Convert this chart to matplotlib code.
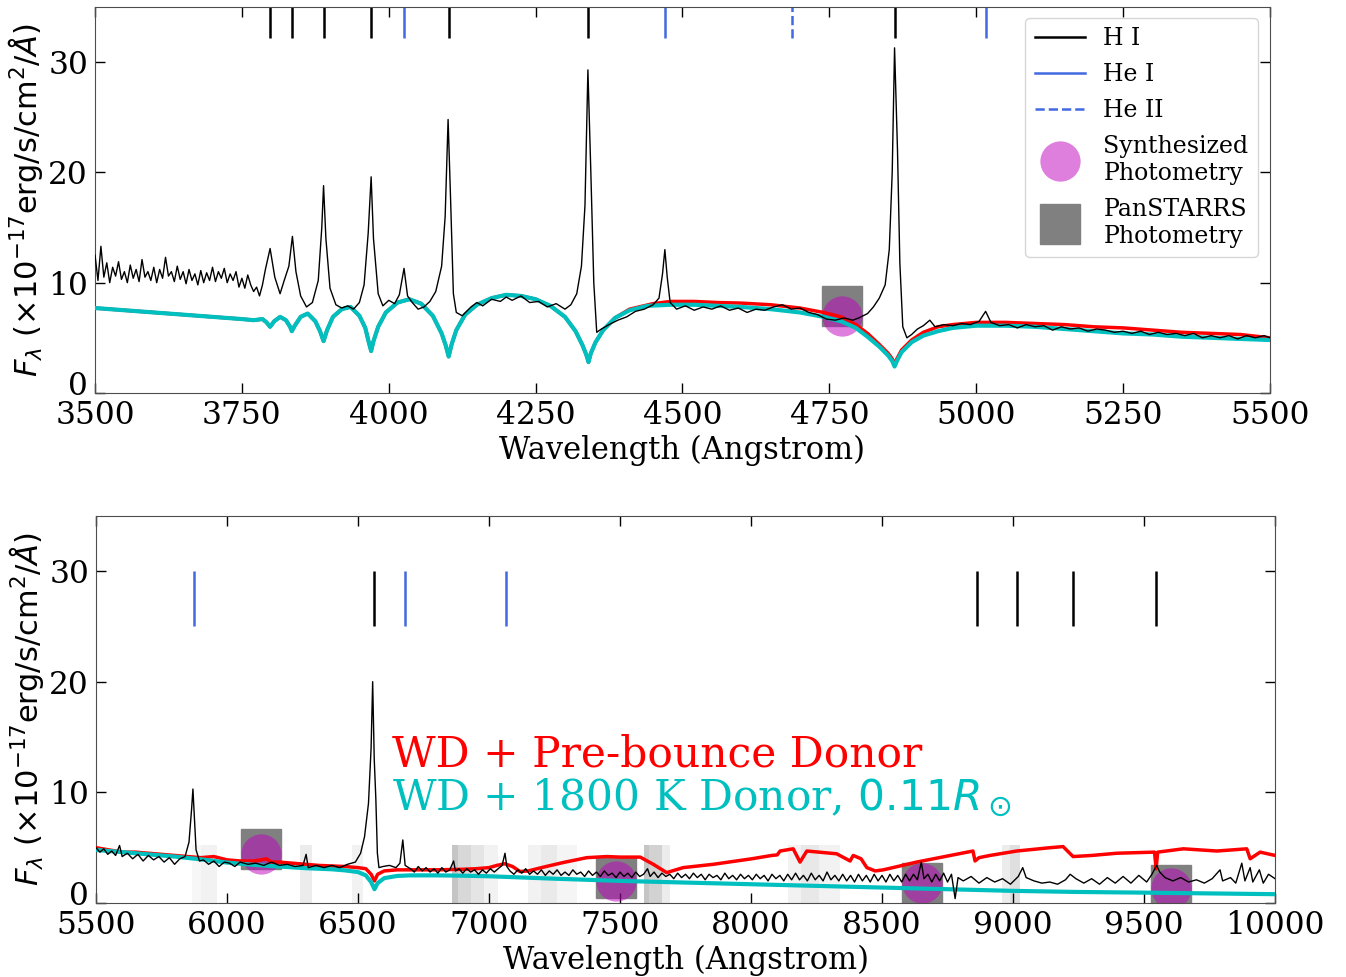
import matplotlib
matplotlib.use('Agg')
import matplotlib.pyplot as plt
import matplotlib.transforms as mtransforms
from matplotlib.lines import Line2D

# observed spectrum (Angstrom, 1e-17 erg/s/cm^2/A)
obs_wave = [3500, 3505, 3510, 3515, 3520, 3525, 3530, 3535, 3540, 3545, 3550, 3555, 3560, 3565, 3570, 3575,
            3580, 3585, 3590, 3595, 3600, 3605, 3610, 3615, 3620, 3625, 3630, 3635, 3640, 3645, 3650, 3655,
            3660, 3665, 3670, 3675, 3680, 3685, 3690, 3695, 3700, 3705, 3710, 3715, 3720, 3725, 3730, 3735,
            3740, 3745, 3750, 3755, 3760, 3765, 3770, 3775, 3780, 3785, 3790,
            3798, 3806, 3815, 3822, 3830, 3836, 3842, 3850, 3860, 3870, 3880, 3886, 3889, 3893, 3900, 3910,
            3920, 3930, 3940, 3950, 3958, 3965, 3970, 3974, 3982, 3990, 4000, 4010, 4018, 4026, 4032, 4040,
            4050, 4060, 4070, 4080, 4090, 4096, 4101, 4105, 4110, 4115, 4125, 4140, 4150, 4160, 4175, 4190,
            4200, 4210, 4225, 4240, 4255, 4270, 4285, 4300, 4310, 4320, 4328, 4334, 4339, 4344, 4349, 4354,
            4362, 4375, 4390, 4405, 4420, 4435, 4450, 4460, 4466, 4470, 4474, 4479, 4490, 4505, 4520, 4535,
            4550, 4565, 4580, 4595, 4610, 4625, 4640, 4655, 4670, 4685, 4700, 4715, 4730, 4745, 4760, 4775,
            4790, 4800, 4815, 4825, 4835, 4845, 4852, 4857, 4861, 4866, 4870, 4875, 4882, 4890, 4900, 4910,
            4921, 4930, 4945, 4960, 4975, 4990, 5005, 5016, 5025, 5040, 5055, 5070, 5085, 5100, 5115, 5130,
            5145, 5160, 5175, 5190, 5205, 5220, 5235, 5250, 5265, 5280, 5295, 5310, 5325, 5340, 5355, 5370,
            5385, 5400, 5415, 5430, 5445, 5460, 5475, 5490, 5500,
            5515, 5530, 5545, 5560, 5575, 5590, 5600, 5620, 5640, 5660, 5680, 5700, 5720, 5740, 5760, 5780,
            5800, 5820, 5840, 5855, 5865, 5870, 5876, 5882, 5895, 5910, 5930, 5950, 5970, 5990, 6010, 6030,
            6050, 6080, 6110, 6140, 6170, 6200, 6230, 6260, 6290, 6302, 6310, 6340, 6370, 6400, 6430, 6460,
            6490, 6510, 6525, 6540, 6550, 6556, 6562, 6568, 6574, 6580, 6595, 6620, 6645, 6660, 6671, 6680,
            6700, 6715, 6730, 6745, 6760, 6775, 6790, 6805, 6820, 6835, 6850, 6865, 6872, 6885, 6900, 6915,
            6930, 6945, 6960, 6975, 6990, 7005, 7020, 7035, 7050, 7061, 7068, 7080, 7095, 7110, 7125, 7140,
            7155, 7170, 7185, 7200, 7215, 7230, 7245, 7260, 7275, 7290, 7305, 7320, 7335, 7350, 7365, 7380,
            7395, 7410, 7425, 7440, 7455, 7470, 7485, 7500, 7515, 7530, 7545, 7560, 7575, 7590, 7605, 7615,
            7630, 7645, 7660, 7675, 7690, 7705, 7720, 7735, 7750, 7765, 7780, 7795, 7810, 7825, 7840, 7855,
            7870, 7885, 7900, 7915, 7930, 7945, 7960, 7975, 7990, 8005, 8020, 8035, 8050, 8065, 8080, 8095,
            8110, 8125, 8140, 8155, 8170, 8185, 8200, 8215, 8230, 8245, 8260, 8275, 8290, 8305, 8320, 8335,
            8350, 8365, 8380, 8395, 8410, 8425, 8440, 8455, 8470, 8485, 8500, 8515, 8530, 8545, 8560, 8575,
            8590, 8605, 8620, 8635, 8650, 8660, 8675, 8690, 8705, 8720, 8735, 8750, 8765, 8779, 8790,
            8810, 8840, 8870, 8900, 8930, 8960, 8990, 9020, 9037, 9050, 9080, 9110, 9140, 9170, 9200, 9218,
            9240, 9270, 9300, 9330, 9360, 9390, 9420, 9450, 9480, 9510, 9530, 9548, 9560, 9580, 9610, 9640,
            9670, 9700, 9730, 9760, 9790, 9800, 9830, 9850, 9873, 9885, 9905, 9915, 9940, 9955, 9975, 10000]
obs_flux = [12.5, 10.2, 13.3, 10.5, 11.8, 10.0, 11.4, 10.6, 11.9, 10.3, 11.0, 10.0, 11.6, 10.4, 11.2, 10.1,
            12.1, 10.5, 11.0, 10.2, 11.4, 10.0, 11.2, 10.4, 12.3, 10.6, 11.0, 10.1, 11.5, 10.3, 11.0, 9.9,
            11.2, 10.2, 10.8, 9.8, 11.1, 10.0, 10.9, 10.2, 11.4, 10.1, 11.0, 10.4, 11.3, 10.0, 10.8, 10.2,
            11.0, 9.6, 10.4, 9.5, 10.7, 9.8, 9.2, 9.6, 8.8, 9.8, 11.2,
            13.1, 10.5, 9.0, 10.2, 11.5, 14.2, 11.0, 8.8, 7.8, 8.2, 10.2, 15.0, 18.8, 14.0, 9.5, 8.0,
            7.7, 7.9, 7.6, 8.2, 9.8, 14.5, 19.6, 14.0, 9.0, 7.9, 8.4, 8.1, 8.9, 11.3, 8.8, 8.2,
            7.6, 7.8, 8.3, 9.2, 11.5, 16.0, 24.8, 18.0, 9.0, 7.3, 7.0, 7.8, 8.2, 7.9, 8.5, 8.3,
            8.7, 8.4, 8.8, 8.2, 8.3, 7.8, 8.1, 7.6, 8.0, 9.0, 11.5, 17.0, 29.3, 20.0, 10.0, 5.5,
            5.8, 6.2, 6.6, 6.9, 7.4, 7.6, 8.0, 8.6, 10.8, 13.0, 10.5, 8.2, 7.6, 7.9, 7.5, 7.8,
            7.6, 7.9, 7.5, 7.7, 7.3, 7.6, 7.5, 7.8, 8.0, 7.6, 7.7, 7.3, 7.1, 6.7, 6.6, 6.8,
            6.6, 6.8, 7.2, 7.8, 8.6, 9.8, 13.0, 20.0, 31.3, 22.0, 11.8, 6.0, 5.0, 5.3, 5.8, 6.1,
            6.6, 6.0, 6.2, 6.1, 6.3, 6.2, 6.5, 7.4, 6.4, 6.1, 6.2, 5.9, 6.2, 6.0, 6.1, 5.7,
            6.0, 5.8, 5.9, 5.6, 5.8, 5.7, 5.5, 5.6, 5.4, 5.6, 5.3, 5.5, 5.3, 5.4, 5.2, 5.4,
            5.0, 5.2, 5.0, 5.2, 4.9, 5.2, 5.0, 5.2, 5.0,
            4.6, 4.9, 4.4, 4.7, 4.3, 5.2, 4.2, 4.5, 4.0, 4.4, 3.8, 4.3, 3.9, 4.2, 3.7, 4.1,
            3.5, 4.0, 4.2, 5.5, 8.5, 10.3, 7.5, 4.8, 3.8, 3.9, 3.5, 3.8, 3.3, 3.7, 3.6, 3.3,
            3.7, 3.5, 3.6, 3.4, 3.7, 3.4, 3.5, 3.3, 3.4, 4.4, 3.2, 3.4, 3.2, 3.4, 3.2, 3.5,
            3.7, 4.5, 6.0, 9.0, 14.0, 20.0, 13.0, 9.5, 4.5, 3.2, 3.3, 3.4, 3.2, 3.6, 5.7, 3.4,
            3.1, 2.8, 3.3, 2.9, 3.2, 2.8, 3.1, 2.7, 3.2, 2.8, 3.0, 3.8, 2.9, 3.1, 2.7, 3.1,
            2.8, 3.0, 2.6, 3.0, 2.7, 3.1, 2.8, 3.1, 3.4, 4.5, 3.3, 2.9, 2.6, 3.0, 2.7, 3.1,
            2.6, 2.9, 2.6, 3.0, 2.5, 2.9, 2.6, 3.0, 2.5, 2.8, 2.5, 3.0, 2.6, 2.8, 2.4, 2.9,
            2.5, 2.8, 2.4, 2.9, 2.5, 2.7, 2.3, 2.8, 2.4, 2.7, 2.3, 2.8, 2.4, 2.6, 3.1, 2.4,
            2.8, 2.3, 2.7, 2.4, 2.6, 2.2, 2.7, 2.3, 2.6, 2.2, 2.7, 2.3, 2.6, 2.1, 2.6, 2.3,
            2.5, 2.1, 2.7, 2.2, 2.5, 2.1, 2.6, 2.2, 2.5, 2.1, 2.6, 2.2, 2.5, 2.0, 2.6, 2.2,
            2.5, 2.0, 2.6, 2.1, 2.7, 2.1, 2.5, 2.0, 2.7, 2.1, 2.5, 2.0, 2.8, 2.1, 2.5, 2.0,
            2.6, 2.0, 2.5, 1.9, 2.6, 2.0, 2.5, 1.9, 2.6, 2.0, 2.5, 1.9, 2.6, 2.0, 2.5, 1.9,
            2.6, 2.0, 2.6, 2.1, 3.7, 2.2, 2.6, 1.9, 2.6, 2.0, 2.7, 1.9, 2.6, 0.4, 2.3,
            2.0, 2.4, 1.8, 2.3, 1.9, 2.2, 1.7, 2.4, 3.2, 2.3, 2.0, 1.8, 1.9, 1.7, 2.1, 2.6,
            2.2, 1.8, 2.2, 1.7, 2.3, 1.8, 2.4, 1.8, 2.5, 1.9, 2.6, 3.4, 2.8, 2.3, 2.0, 2.3,
            1.9, 2.1, 1.8, 2.2, 3.0, 2.0, 2.3, 1.8, 3.6, 2.0, 3.2, 1.9, 3.0, 1.8, 2.6, 2.2]

# WD + 1800 K donor model (cyan)
cyan_wave = [3500, 3550, 3600, 3650, 3700, 3750, 3770, 3785, 3792, 3798, 3805, 3815, 3825, 3832, 3835, 3840,
             3850, 3862, 3875, 3883, 3889, 3895, 3905, 3920, 3935, 3950, 3960, 3966, 3970, 3974, 3982, 3995,
             4015, 4035, 4055, 4075, 4090, 4097, 4102, 4107, 4115, 4130, 4150, 4175, 4200, 4225, 4250, 4275,
             4300, 4318, 4330, 4336, 4340, 4344, 4352, 4365, 4385, 4410, 4440, 4480, 4520, 4560, 4600, 4650,
             4700, 4740, 4770, 4795, 4815, 4835, 4850, 4857, 4861, 4865, 4873, 4890, 4910, 4935, 4960, 5000,
             5050, 5100, 5150, 5200, 5250, 5300, 5350, 5400, 5450, 5500, 5600, 5700, 5800, 5900, 6000, 6100,
             6200, 6300, 6400, 6450, 6500, 6530, 6550, 6563, 6575, 6600, 6650, 6700, 6800, 6900, 7000, 7250,
             7500, 7750, 8000, 8250, 8500, 8750, 9000, 9250, 9500, 9750, 10000]
cyan_flux = [7.7, 7.5, 7.3, 7.1, 6.9, 6.7, 6.6, 6.7, 6.4, 6.0, 6.5, 6.9, 6.6, 6.0, 5.6, 6.1,
             6.9, 7.2, 6.5, 5.6, 4.7, 5.7, 6.9, 7.6, 7.8, 7.0, 5.9, 4.6, 3.8, 4.7, 6.0, 7.3,
             8.2, 8.5, 8.1, 7.0, 5.4, 4.3, 3.3, 4.4, 5.7, 7.1, 8.0, 8.6, 8.9, 8.8, 8.5, 7.9,
             6.9, 5.6, 4.3, 3.5, 2.8, 3.6, 4.6, 5.7, 6.8, 7.5, 7.9, 8.0, 8.0, 7.9, 7.8, 7.6,
             7.3, 6.9, 6.5, 5.9, 5.1, 4.2, 3.4, 2.9, 2.4, 2.9, 3.7, 4.6, 5.2, 5.6, 5.9, 6.1,
             6.1, 6.0, 5.8, 5.6, 5.4, 5.3, 5.1, 5.0, 4.9, 4.8, 4.6, 4.4, 4.2, 3.95, 3.66, 3.45,
             3.3, 3.15, 3.05, 2.95, 2.8, 2.5, 1.9, 1.25, 1.8, 2.25, 2.45, 2.5, 2.5, 2.47, 2.42, 2.2,
             2.0, 1.85, 1.7, 1.55, 1.4, 1.25, 1.1, 1.0, 0.94, 0.87, 0.8]

# WD + pre-bounce donor model (red)
red_wave = [3500, 3550, 3600, 3650, 3700, 3750, 3770, 3785, 3792, 3798, 3805, 3815, 3825, 3832, 3835, 3840,
            3850, 3862, 3875, 3883, 3889, 3895, 3905, 3920, 3935, 3950, 3960, 3966, 3970, 3974, 3982, 3995,
            4015, 4035, 4055, 4075, 4090, 4097, 4102, 4107, 4115, 4130, 4150, 4175, 4200, 4225, 4250, 4275,
            4300, 4318, 4330, 4336, 4340, 4344, 4352, 4365, 4385, 4410, 4450, 4480, 4520, 4560, 4600, 4650,
            4700, 4740, 4770, 4795, 4815, 4835, 4850, 4857, 4861, 4865, 4873, 4890, 4910, 4935, 4960, 5000,
            5050, 5100, 5150, 5200, 5250, 5300, 5350, 5400, 5450, 5500, 5550, 5600, 5650, 5700, 5750, 5800,
            5850, 5900, 5950, 6000, 6050, 6100, 6130, 6150, 6170, 6200, 6250, 6300, 6350, 6400, 6450, 6500,
            6530, 6550, 6563, 6575, 6600, 6650, 6700, 6800, 6900, 6950, 7000, 7030, 7060, 7090, 7118, 7150,
            7200, 7283, 7373, 7450, 7500, 7577, 7627, 7678, 7741, 7856, 8003, 8079, 8100, 8111, 8161, 8187,
            8213, 8327, 8378, 8390, 8420, 8442, 8474, 8505, 8632, 8760, 8847, 8855, 8870, 8912, 9014, 9141,
            9191, 9229, 9300, 9396, 9540, 9546, 9552, 9650, 9778, 9892, 9905, 9943, 10000]
red_flux = [7.7, 7.5, 7.3, 7.1, 6.9, 6.7, 6.6, 6.7, 6.4, 6.0, 6.5, 6.9, 6.6, 6.0, 5.6, 6.1,
            6.9, 7.2, 6.5, 5.6, 4.7, 5.7, 6.9, 7.6, 7.8, 7.0, 5.9, 4.6, 3.8, 4.7, 6.0, 7.3,
            8.2, 8.5, 8.1, 7.0, 5.4, 4.3, 3.3, 4.4, 5.7, 7.1, 8.0, 8.6, 8.9, 8.8, 8.5, 7.9,
            6.9, 5.6, 4.3, 3.5, 2.8, 3.6, 4.6, 5.7, 6.8, 7.6, 8.1, 8.3, 8.3, 8.2, 8.15, 8.0,
            7.7, 7.3, 6.9, 6.2, 5.4, 4.4, 3.6, 3.1, 2.6, 3.1, 3.9, 4.8, 5.5, 6.0, 6.2, 6.4,
            6.4, 6.3, 6.2, 6.0, 5.9, 5.7, 5.5, 5.4, 5.3, 5.0, 4.8, 4.6, 4.6, 4.5, 4.4, 4.3,
            4.2, 4.1, 4.2, 3.9, 3.8, 3.8, 3.9, 4.0, 3.7, 3.7, 3.6, 3.5, 3.4, 3.35, 3.3, 3.2,
            3.1, 2.6, 2.0, 2.6, 2.9, 3.0, 3.0, 3.0, 3.05, 3.1, 3.2, 3.4, 3.55, 3.3, 2.85, 2.9,
            3.2, 3.66, 4.1, 4.2, 4.15, 4.15, 3.5, 2.75, 3.2, 3.5, 4.0, 4.3, 4.35, 4.7, 4.9, 3.7,
            4.7, 4.45, 3.8, 4.3, 4.0, 3.2, 2.9, 3.0, 3.7, 4.3, 4.7, 3.8, 4.1, 4.3, 4.7, 5.0,
            5.1, 4.2, 4.3, 4.5, 4.6, 3.1, 4.6, 4.9, 4.7, 4.9, 4.0, 4.6, 4.3]

# photometry
synth_wave = [4771, 6130, 7483, 8651, 9603]
synth_flux = [7.0, 4.4, 2.0, 1.85, 1.4]
ps_wave = [4771, 6130, 7483, 8651, 9603]
ps_flux = [7.9, 4.9, 2.3, 1.8, 1.6]

# line identifications
hi_lines = [3798, 3835, 3889, 3970, 4102, 4340, 4861, 6563, 8863, 9015, 9229, 9546]
hei_lines = [4026, 4471, 5016, 5876, 6678, 7065]
heii_lines = [4686]

# telluric bands: start, end, grey alpha
band_start = [5866, 5900, 6279, 6477, 6860, 6880, 6930, 6980, 7150, 7200, 7260, 7590, 7610, 7660,
              8140, 8190, 8260, 8957, 8990]
band_end = [5900, 5962, 6324, 6519, 6880, 6930, 6980, 7035, 7200, 7260, 7336, 7610, 7660, 7691,
            8190, 8260, 8340, 8990, 9027]
band_alpha = [0.06, 0.1, 0.15, 0.1, 0.45, 0.3, 0.2, 0.1, 0.1, 0.16, 0.08, 0.45, 0.35, 0.15,
              0.1, 0.18, 0.1, 0.15, 0.25]

plt.rcParams['font.family'] = 'DejaVu Serif'
plt.rcParams['mathtext.fontset'] = 'dejavusans'

fig = plt.figure(figsize=(13.46, 9.77), dpi=100)
ax1 = fig.add_axes([0.0706, 0.5978, 0.8729, 0.3950])
ax2 = fig.add_axes([0.0713, 0.0757, 0.8760, 0.3965])

hecol = '#4169e1'
ylab = r'$F_\lambda$ ($\times10^{-17}$erg/s/cm$^2$/$\AA$)'
zero_shift = mtransforms.ScaledTranslation(0, 0.1, fig.dpi_scale_trans)

for ax, lo, hi in [(ax1, 32.2, 36), (ax2, 25, 30)]:
    ax.plot(red_wave, red_flux, color='r', lw=2.5, zorder=3)
    ax.plot(cyan_wave, cyan_flux, color='c', lw=3, zorder=3.5)
    ax.plot(obs_wave, obs_flux, color='k', lw=1.0, zorder=4)
    ax.plot(ps_wave, ps_flux, 's', color='gray', ms=29, zorder=1)
    ax.plot(synth_wave, synth_flux, 'o', color='m', alpha=0.5, ms=29, mec='none', zorder=2)
    ax.vlines(hi_lines, lo, hi, color='k', lw=1.8)
    ax.vlines(hei_lines, lo, hi, color=hecol, lw=1.8)
    ax.vlines(heii_lines, lo, hi, color=hecol, lw=1.8, linestyles='--')
    ax.set_ylim(0, 35)
    ax.set_yticks([0, 10, 20, 30])
    ax.tick_params(direction='in', top=True, right=True, labelsize=22.5, length=7, width=1, pad=5)
    ax.set_xlabel('Wavelength (Angstrom)', fontsize=22, labelpad=3)
    ax.set_ylabel(ylab, fontsize=22, family='DejaVu Sans', labelpad=2)
    for s in ax.spines.values():
        s.set_color('0.3')
    # the "0" label sits a little above its tick in the original
    lab0 = ax.yaxis.get_major_ticks()[0].label1
    lab0.set_transform(lab0.get_transform() + zero_shift)

for s, e, a in zip(band_start, band_end, band_alpha):
    ax2.fill_between([s, e], 0, 5.2, color='gray', alpha=a, lw=0, zorder=0.5)

ax1.set_xlim(3500, 5500)
ax1.set_xticks([3500, 3750, 4000, 4250, 4500, 4750, 5000, 5250, 5500])
ax2.set_xlim(5500, 10000)
ax2.set_xticks([5500, 6000, 6500, 7000, 7500, 8000, 8500, 9000, 9500, 10000])

handles = [Line2D([], [], color='k', lw=1.8),
           Line2D([], [], color=hecol, lw=1.8),
           Line2D([], [], color=hecol, lw=1.8, ls='--'),
           Line2D([], [], marker='o', ls='none', color='m', alpha=0.5, ms=29, mec='none'),
           Line2D([], [], marker='s', ls='none', color='gray', ms=29)]
labels = ['H I', 'He I', 'He II', 'Synthesized\nPhotometry', 'PanSTARRS\nPhotometry']
ax1.legend(handles, labels, loc='upper right', fontsize=17, handlelength=2.1,
           labelspacing=0.55, borderpad=0.4, borderaxespad=0,
           bbox_to_anchor=(0.9898, 0.9715))

ax2.text(6630, 13.4, 'WD + Pre-bounce Donor', color='r', fontsize=30.5, va='center')
ax2.text(6630, 9.5, r'WD + 1800 K Donor, $0.11R_\odot$', color='c', fontsize=30.5, va='center')

fig.savefig('out.png', dpi=100)
